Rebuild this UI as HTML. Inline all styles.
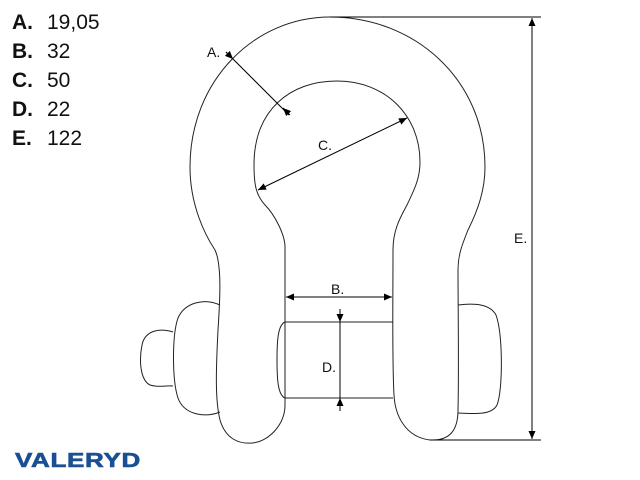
<!DOCTYPE html>
<html><head><style>
html,body{margin:0;padding:0;background:#fff;}
body{width:640px;height:480px;overflow:hidden;position:relative;font-family:"Liberation Sans",Arial,sans-serif;}
.leg{position:absolute;left:12px;font-size:21px;color:#111;line-height:21px;}
.leg b{display:inline-block;width:35px;}
.logo{position:absolute;left:15px;top:450px;font-size:20px;font-weight:900;color:#1a4f94;letter-spacing:0.5px;transform:scaleX(1.3);transform-origin:left top;-webkit-text-stroke:0.6px #1a4f94;}
</style></head><body>
<div class="leg" style="top:12px"><b>A.</b>19,05</div>
<div class="leg" style="top:41px"><b>B.</b>32</div>
<div class="leg" style="top:70px"><b>C.</b>50</div>
<div class="leg" style="top:99px"><b>D.</b>22</div>
<div class="leg" style="top:128px"><b>E.</b>122</div>
<div class="logo">VALERYD</div>
<svg width="640" height="480" style="position:absolute;left:0;top:0" viewBox="0 0 640 480">
<defs><marker id="ar" markerWidth="10" markerHeight="10" refX="8" refY="4" orient="auto-start-reverse" markerUnits="userSpaceOnUse"><path d="M0,0.5 L8,4 L0,7.5 Z" fill="#000"/></marker></defs>
<g fill="none" stroke="#222" stroke-width="1">
<path d="M173,332 C160,328 145,330 142,345 C139,360 140,380 150,385 C160,388 168,385 173,386"/>
<path d="M220,305 C205,298 185,302 178,318 C172,335 172,380 178,398 C184,415 205,418 220,412"/>
<path d="M458,305 C475,303 490,304 496,315 C503,335 503,390 497,405 C492,415 475,414 458,413"/>
<path d="M285,322 L393,322 M285,398 L393,398 M285,322 C278,325 277,340 277,360 C277,380 278,395 285,398"/>
<path d="M330,17 C255,17 190,80 190,167 C190,205 205,235 215,250 C222,265 220,300 218,330 C216,370 215,400 220,420 C226,440 240,444 252,443 C268,442 285,425 285,405 L285,395 C285,360 285,300 285,247 C285,235 275,215 265,205 C256,195 254,185 254,165 C254,110 290,81 337,81 C385,81 420,115 420,162 C420,180 413,192 407,205 C400,218 393,230 393,250 C393,300 392,360 394,395 C395,415 405,437 430,440 C450,441 458,430 458,410 C459,370 458,300 458,270 C458,255 462,245 468,230 C478,210 485,190 485,167 C485,80 415,17 330,17 Z"/>
</g>
<g stroke="#000" stroke-width="1" fill="none">
<line x1="330" y1="17" x2="541" y2="17"/>
<line x1="430" y1="440" x2="541" y2="440"/>
<line x1="532" y1="18" x2="532" y2="439" marker-start="url(#ar)" marker-end="url(#ar)"/>
<line x1="226" y1="52" x2="289" y2="115"/>
<line x1="226" y1="52" x2="233" y2="59" marker-end="url(#ar)"/>
<line x1="290" y1="115" x2="283" y2="108" marker-end="url(#ar)"/>
<line x1="258" y1="190" x2="407" y2="118" marker-start="url(#ar)" marker-end="url(#ar)"/>
<line x1="286" y1="297" x2="392" y2="297" marker-start="url(#ar)" marker-end="url(#ar)"/>
<line x1="340" y1="309" x2="340" y2="322" marker-end="url(#ar)"/>
<line x1="340" y1="322" x2="340" y2="398"/>
<line x1="340" y1="411" x2="340" y2="398" marker-end="url(#ar)"/>
</g>
<g font-family="Liberation Sans, Arial, sans-serif" font-size="14" fill="#111">
<text x="207" y="57">A.</text>
<text x="318" y="150">C.</text>
<text x="331" y="294">B.</text>
<text x="322" y="372">D.</text>
<text x="514" y="243">E.</text>
</g>
</svg>
</body></html>
